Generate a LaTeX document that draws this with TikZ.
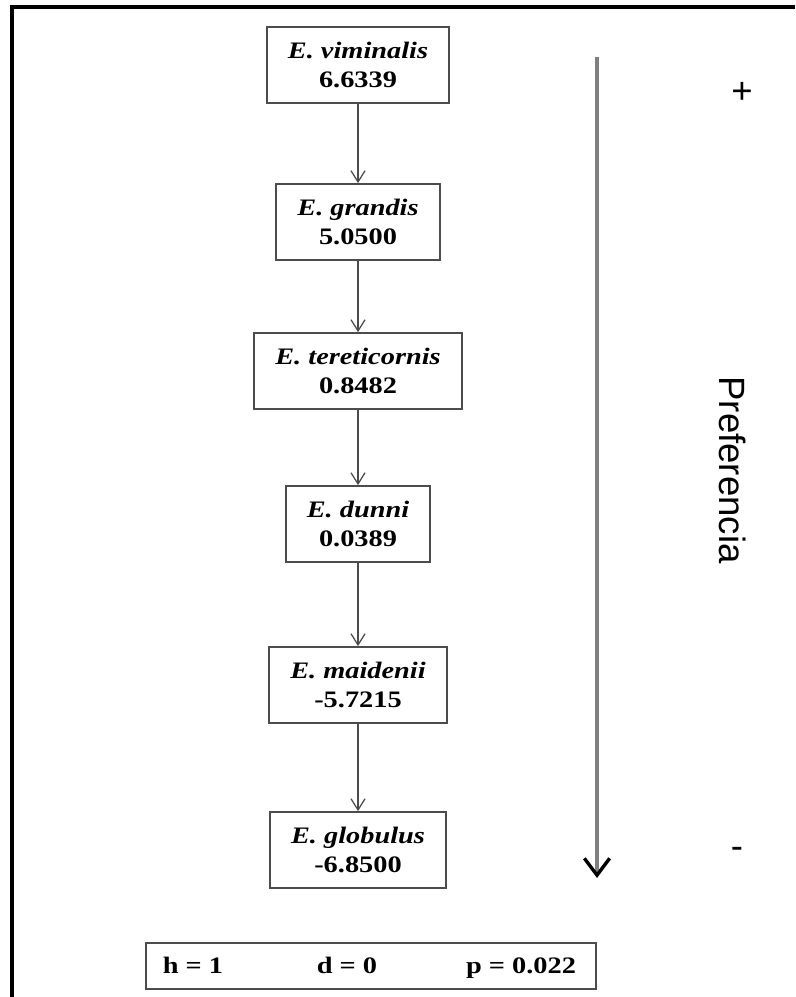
\documentclass[tikz,border=0pt]{standalone}
\usepackage{fontspec}
\setmainfont{Liberation Serif}[FakeStretch=1.2]
\newfontfamily\arialfont{Liberation Sans}
\usepackage{tikz}
\usetikzlibrary{arrows.meta}
\tikzstyle{species}=[draw=black!70,line width=1.2pt,fill=white,align=center,inner xsep=15pt,minimum height=1.9cm,font=\fontsize{16.8}{20.6}\selectfont\bfseries]
\tikzstyle{edge} = [draw=black!70,line width=0.9pt,-{Straight Barb[length=8pt,width=10pt]}]
\tikzstyle{bigarrow} = [draw=black!50,line width=3.2pt,-{Straight Barb[length=12pt,width=18pt,line width=2.4pt,color=black]}]
\tikzstyle{pref}=[font=\arialfont\fontsize{26}{30}\selectfont,inner sep=0pt]
\tikzstyle{statbox}=[draw=black!70,line width=1.2pt,minimum width=11.25cm,minimum height=1.15cm]
\tikzstyle{stat}=[font=\fontsize{16.8}{20.6}\selectfont\bfseries,inner sep=0pt,anchor=base]

\begin{document}
\begin{tikzpicture}[x=0.025cm,y=-0.025cm]
        \useasboundingbox (0,0) rectangle (795,997);
        \draw[line width=3.2pt] (12,997) -- (12,7) -- (795,7);
        \node[species] (vim) at (358,65) {\textit{E. viminalis}\\6.6339};
        \node[species] (gra) at (358,222) {\textit{E. grandis}\\5.0500};
        \node[species] (ter) at (358,371) {\textit{E. tereticornis}\\0.8482};
        \node[species] (dun) at (358,524) {\textit{E. dunni}\\0.0389};
        \node[species] (mai) at (358,685) {\textit{E. maidenii}\\-5.7215};
        \node[species] (glo) at (358,850) {\textit{E. globulus}\\-6.8500};
        \draw[edge] (vim) to (gra);
        \draw[edge] (gra) to (ter);
        \draw[edge] (ter) to (dun);
        \draw[edge] (dun) to (mai);
        \draw[edge] (mai) to (glo);
        % preference scale
        \coordinate (ptop) at (597,57);
        \coordinate (pbot) at (597,878);
        \draw[bigarrow] (ptop) -- (pbot);
        \node[pref] (plus) at (742,93) {+};
        \node[pref] (minus) at (737,853) {-};
        \node[pref,rotate=-90] (preflabel) at (733,470) {Preferencia};
        \node[statbox] (stats) at (371,966) {};
        \node[stat] (h) at (193,973) {h = 1};
        \node[stat] (d) at (347,973) {d = 0};
        \node[stat] (p) at (521,973) {p = 0.022};
      \end{tikzpicture}
\end{document}
